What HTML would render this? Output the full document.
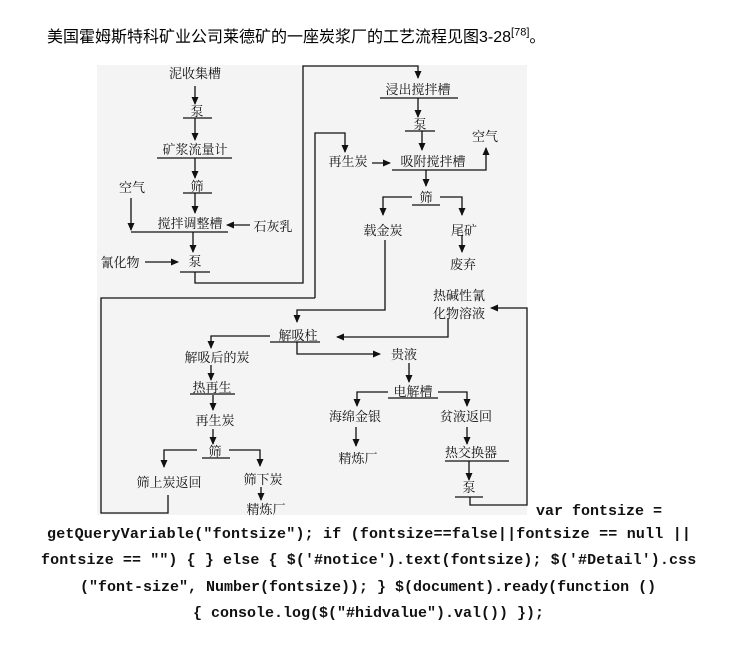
<!DOCTYPE html>
<html><head><meta charset="utf-8"><style>
body{margin:0;background:#fff;width:730px;height:663px;overflow:hidden;position:relative}
.t{position:absolute;left:47px;top:23px;font:16px "Liberation Sans","Noto Sans CJK SC",sans-serif;color:#000;white-space:nowrap}
.c{position:absolute;font:bold 15px "Liberation Mono",monospace;color:#111;white-space:pre;line-height:18px}
svg{position:absolute;left:0;top:0}
svg text{font-family:"Noto Serif CJK SC","Liberation Serif",serif;font-size:13px;fill:#111;text-anchor:middle}
</style></head><body>
<svg width="730" height="663" viewBox="0 0 730 663">
<defs><marker id="a" markerWidth="8" markerHeight="8" refX="7" refY="4" orient="auto" markerUnits="userSpaceOnUse"><path d="M0,0.5 L8,4 L0,7.5z" fill="#111"/></marker></defs>
<rect x="97" y="65" width="430" height="450" fill="#f4f4f4"/>
<g stroke="#111" stroke-width="1.3" fill="none">
<line x1="195" y1="86" x2="195" y2="104" marker-end="url(#a)"/>
<line x1="183" y1="118" x2="212" y2="118"/>
<line x1="195" y1="118" x2="195" y2="140" marker-end="url(#a)"/>
<line x1="157" y1="158" x2="232" y2="158"/>
<line x1="195" y1="158" x2="195" y2="178" marker-end="url(#a)"/>
<line x1="183" y1="193" x2="212" y2="193"/>
<line x1="195" y1="193" x2="195" y2="213" marker-end="url(#a)"/>
<polyline points="131,198 131,230" marker-end="url(#a)"/>
<line x1="131" y1="232" x2="228" y2="232"/>
<line x1="250" y1="225" x2="227" y2="225" marker-end="url(#a)"/>
<line x1="193" y1="232" x2="193" y2="252" marker-end="url(#a)"/>
<line x1="145" y1="262" x2="178" y2="262" marker-end="url(#a)"/>
<line x1="180" y1="272" x2="210" y2="272"/>
<polyline points="195,272 195,283 303,283 303,66 418,66 418,78" marker-end="url(#a)"/>
<line x1="380" y1="98" x2="458" y2="98"/>
<line x1="418" y1="98" x2="418" y2="117" marker-end="url(#a)"/>
<line x1="405" y1="131" x2="435" y2="131"/>
<line x1="422" y1="131" x2="422" y2="150" marker-end="url(#a)"/>
<polyline points="392,170 486,170 486,148" marker-end="url(#a)"/>
<line x1="372" y1="163" x2="390" y2="163" marker-end="url(#a)"/>
<polyline points="315,298 315,133 345,133 345,152" marker-end="url(#a)"/>
<line x1="426" y1="170" x2="426" y2="186" marker-end="url(#a)"/>
<line x1="412" y1="205" x2="440" y2="205"/>
<polyline points="412,197 383,197 383,215" marker-end="url(#a)"/>
<polyline points="440,197 462,197 462,215" marker-end="url(#a)"/>
<line x1="462" y1="235" x2="462" y2="252" marker-end="url(#a)"/>
<polyline points="315,298 101,298 101,513 168,513 168,495"/>
<polyline points="385,240 385,310 297,310 297,322" marker-end="url(#a)"/>
<line x1="270" y1="342" x2="320" y2="342"/>
<polyline points="448,318 448,337 337,337" marker-end="url(#a)"/>
<polyline points="470,497 470,505 527,505 527,308 491,308" marker-end="url(#a)"/>
<polyline points="270,336 211,336 211,348" marker-end="url(#a)"/>
<polyline points="297,342 297,354 380,354" marker-end="url(#a)"/>
<line x1="409" y1="363" x2="409" y2="382" marker-end="url(#a)"/>
<line x1="388" y1="398" x2="438" y2="398"/>
<polyline points="388,392 357,392 357,406" marker-end="url(#a)"/>
<polyline points="438,392 467,392 467,406" marker-end="url(#a)"/>
<line x1="356" y1="427" x2="356" y2="446" marker-end="url(#a)"/>
<line x1="467" y1="427" x2="467" y2="444" marker-end="url(#a)"/>
<line x1="445" y1="461" x2="509" y2="461"/>
<line x1="469" y1="461" x2="469" y2="480" marker-end="url(#a)"/>
<line x1="455" y1="497" x2="483" y2="497"/>
<line x1="211" y1="365" x2="211" y2="380" marker-end="url(#a)"/>
<line x1="190" y1="394" x2="235" y2="394"/>
<line x1="213" y1="395" x2="213" y2="410" marker-end="url(#a)"/>
<line x1="213" y1="429" x2="213" y2="444" marker-end="url(#a)"/>
<line x1="202" y1="458" x2="230" y2="458"/>
<polyline points="197,450 164,450 164,467" marker-end="url(#a)"/>
<polyline points="229,450 260,450 260,466" marker-end="url(#a)"/>
<line x1="261" y1="487" x2="261" y2="500" marker-end="url(#a)"/>
</g>
<g>
<text x="195" y="78">泥收集槽</text>
<text x="197" y="116">泵</text>
<text x="195" y="154">矿浆流量计</text>
<text x="197" y="191">筛</text>
<text x="132" y="192">空气</text>
<text x="190" y="228">搅拌调整槽</text>
<text x="273" y="231">石灰乳</text>
<text x="120" y="267">氰化物</text>
<text x="195" y="266">泵</text>
<text x="418" y="94">浸出搅拌槽</text>
<text x="420" y="129">泵</text>
<text x="485" y="141">空气</text>
<text x="348" y="166">再生炭</text>
<text x="433" y="166">吸附搅拌槽</text>
<text x="426" y="202">筛</text>
<text x="383" y="235">载金炭</text>
<text x="464" y="235">尾矿</text>
<text x="463" y="269">废弃</text>
<text x="459" y="300">热碱性氰</text>
<text x="459" y="318">化物溶液</text>
<text x="298" y="340">解吸柱</text>
<text x="217" y="362">解吸后的炭</text>
<text x="404" y="359">贵液</text>
<text x="212" y="392">热再生</text>
<text x="413" y="396">电解槽</text>
<text x="355" y="421">海绵金银</text>
<text x="466" y="421">贫液返回</text>
<text x="215" y="425">再生炭</text>
<text x="358" y="463">精炼厂</text>
<text x="471" y="457">热交换器</text>
<text x="215" y="456">筛</text>
<text x="469" y="492">泵</text>
<text x="169" y="487">筛上炭返回</text>
<text x="263" y="484">筛下炭</text>
<text x="266" y="514">精炼厂</text>
</g>
</svg>
<div class="t">美国霍姆斯特科矿业公司莱德矿的一座炭浆厂的工艺流程见图3-28<sup style="font-size:11px">[78]</sup>。</div>
<div class="c" style="left:536px;top:503px">var fontsize =</div>
<div class="c" style="left:47px;top:526px;letter-spacing:0.2px">getQueryVariable("fontsize"); if (fontsize==false||fontsize == null ||</div>
<div class="c" style="left:41px;top:552px;letter-spacing:0.1px">fontsize == "") { } else { $('#notice').text(fontsize); $('#Detail').css</div>
<div class="c" style="left:80px;top:579px">("font-size", Number(fontsize)); } $(document).ready(function ()</div>
<div class="c" style="left:193px;top:605px">{ console.log($("#hidvalue").val()) });</div>
</body></html>
